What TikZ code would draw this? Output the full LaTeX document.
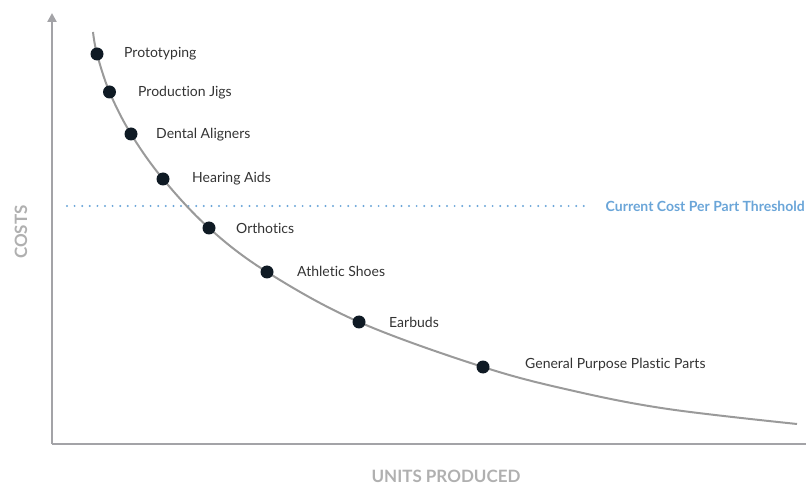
\documentclass[tikz,border=0pt]{standalone}
\usepackage{fontspec}
\setmainfont[Ligatures={NoCommon,NoRare}]{Lato}
\usetikzlibrary{arrows.meta}
\definecolor{axisgray}{HTML}{A3A3A7}
\definecolor{curvegray}{HTML}{9A9A9A}
\definecolor{dotcol}{HTML}{0F1A24}
\definecolor{txt}{HTML}{333333}
\definecolor{thr}{HTML}{6AA5D8}
\definecolor{axlab}{HTML}{B0B0B0}
\tikzset{
  axisline/.style={draw=axisgray, line width=2.4pt},
  curveline/.style={draw=curvegray, line width=2pt},
  dotnode/.style={circle, fill=dotcol, inner sep=0pt, minimum size=13pt},
  lab/.style={anchor=west, inner sep=0pt, text=txt, font=\fontsize{14}{16}\selectfont},
  axislabel/.style={text=axlab, font=\fontsize{17}{20}\selectfont\bfseries},
  thrline/.style={draw=thr, line width=2.2pt, line cap=round, dash pattern=on 0pt off 7.6pt},
}
\begin{document}
\begin{tikzpicture}[x=1pt,y=-1pt]
\useasboundingbox (0,0) rectangle (806,486);
% axes
\coordinate (origin) at (52,444);
\coordinate (ytop) at (52,13);
\coordinate (xend) at (806,444);
\draw[axisline, -{Triangle[width=9pt,length=9pt]}] (origin) -- (ytop);
\draw[axisline] (origin) -- (xend);
% axis labels
\node[axislabel] (xlab) at (446,476) {UNITS PRODUCED};
\node[axislabel, rotate=90] (ylab) at (21,232) {COSTS};
% threshold
\coordinate (ts) at (67,206);
\coordinate (te) at (588,206);
\draw[thrline] (ts) -- (te);
\node[anchor=east, inner sep=0pt, text=thr, font=\fontsize{14}{16}\selectfont\bfseries] (thrlab) at (805,206) {Current Cost Per Part Threshold};
% curve points
\coordinate (c0) at (93,32);
\coordinate (p1) at (97,54);
\coordinate (p2) at (109.5,92);
\coordinate (p3) at (131,134);
\coordinate (p4) at (163,179);
\coordinate (p5) at (209,228);
\coordinate (p6) at (267,272);
\coordinate (p7) at (359,322);
\coordinate (p8) at (483,367);
\coordinate (c8a) at (574,391);
\coordinate (c8b) at (668,409);
\coordinate (c9) at (797,424);
\draw[curveline] plot[smooth, tension=0.6] coordinates {(c0) (p1) (p2) (p3) (p4) (p5) (p6) (p7) (p8) (c8a) (c8b) (c9)};
% dots
\foreach \p in {p1,p2,p3,p4,p5,p6,p7,p8} \node[dotnode] (d\p) at (\p) {};
% labels
\node[lab] (l1) at (124,54) {Prototyping};
\node[lab] (l2) at (138,93) {Production Jigs};
\node[lab] (l3) at (156,135) {Dental Aligners};
\node[lab] (l4) at (192,179) {Hearing Aids};
\node[lab] (l5) at (236,228) {Orthotics};
\node[lab] (l6) at (297,271) {Athletic Shoes};
\node[lab] (l7) at (389,322) {Earbuds};
\node[lab] (l8) at (525,365) {General Purpose Plastic Parts};
\end{tikzpicture}
\end{document}
